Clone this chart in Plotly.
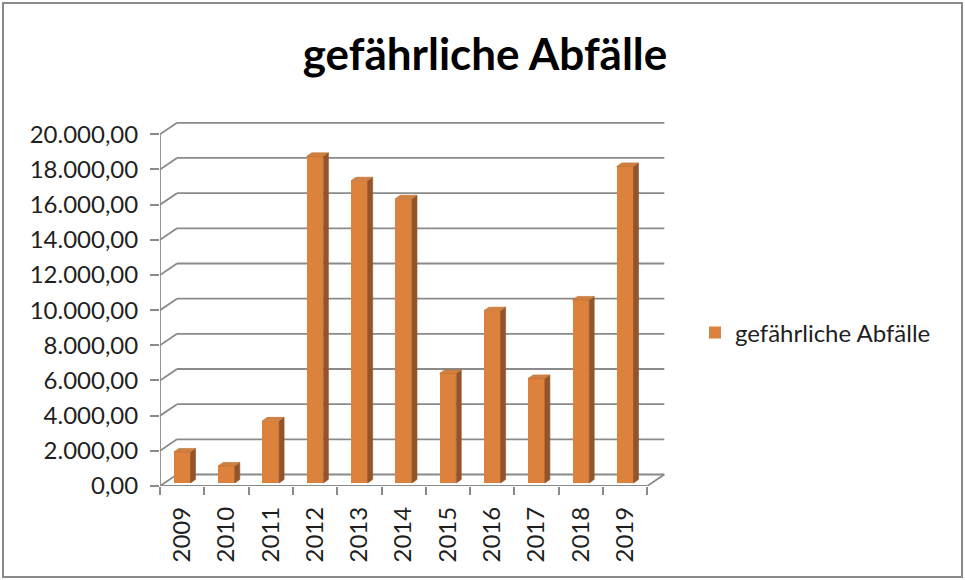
import plotly.graph_objects as go

# ---------------- data ----------------
years = ["2009", "2010", "2011", "2012", "2013", "2014", "2015", "2016", "2017", "2018", "2019"]
values = [1766, 969, 3533, 18575, 17190, 16165, 6233, 9800, 5948, 10410, 18005]
y_ticks = [0, 2000, 4000, 6000, 8000, 10000, 12000, 14000, 16000, 18000, 20000]
series_name = "gefährliche Abfälle"
title_text = "gefährliche Abfälle"

# ---------------- geometry (pixels) ----------------
W, H = 965, 580
L, R, T, B = 160, 300, 120, 94
plot_w = W - L - R
plot_h = H - T - B
cat_px = 44.3                      # width of one category in px
px_per_unit = (486 - 134.3) / 20000  # vertical px per value unit
n = len(years)

x0 = -0.5
x_range = [x0, x0 + plot_w / cat_px]
y_range = [0, plot_h / px_per_unit]

wall_dx = 17 / cat_px
wall_dy = 11.5 / px_per_unit
bar_w = 16.7 / cat_px
bar_dx = 5 / cat_px
bar_dy = 3.5 / px_per_unit
bar_base = 3 / px_per_unit

GRID = "#8a8a8a"
FRONT = "#DC823C"
SIDE = "#93542A"
TOP = "#D2803F"
FONT = "Lato"
TXT = "#1f1f1f"
FS = 24

fig = go.Figure()

# front faces of the columns
fig.add_trace(go.Bar(
    x=list(range(n)), y=values, base=bar_base, width=bar_w,
    marker=dict(color=FRONT, line=dict(width=0)),
    name=series_name, showlegend=True, hoverinfo="skip"))

# side and top faces (computed from the data)
sx, sy, tx, ty = [], [], [], []
for i, v in enumerate(values):
    xr = i + bar_w / 2
    xl = i - bar_w / 2
    top = bar_base + v
    sx += [xr, xr + bar_dx, xr + bar_dx, xr, xr, None]
    sy += [bar_base, bar_base + bar_dy, top + bar_dy, top, bar_base, None]
    tx += [xl, xr, xr + bar_dx, xl + bar_dx, xl, None]
    ty += [top, top, top + bar_dy, top + bar_dy, top, None]

fig.add_trace(go.Scatter(x=sx, y=sy, mode="lines", fill="toself", fillcolor=SIDE,
                         line=dict(width=0.6, color=SIDE), showlegend=False, hoverinfo="skip"))
fig.add_trace(go.Scatter(x=tx, y=ty, mode="lines", fill="toself", fillcolor=TOP,
                         line=dict(width=0.6, color="#B96E33"), showlegend=False, hoverinfo="skip"))

# back wall gridlines, diagonals, axes lines
shapes = []
x_end = x0 + n
for v in y_ticks:
    shapes.append(dict(type="line", xref="x", yref="y", layer="below",
                       x0=x0 + wall_dx, y0=v + wall_dy, x1=x_end + wall_dx, y1=v + wall_dy,
                       line=dict(color=GRID, width=1.8)))
    shapes.append(dict(type="line", xref="x", yref="y", layer="below",
                       x0=x0, y0=v, x1=x0 + wall_dx, y1=v + wall_dy,
                       line=dict(color=GRID, width=1.8)))
# front vertical axis
shapes.append(dict(type="line", xref="x", yref="y", layer="below",
                   x0=x0, y0=0, x1=x0, y1=y_ticks[-1], line=dict(color=GRID, width=1.8)))
# front floor edge
shapes.append(dict(type="line", xref="x", yref="y", layer="below",
                   x0=x0, y0=0, x1=x_end, y1=0, line=dict(color=GRID, width=1.8)))
# right floor edge
shapes.append(dict(type="line", xref="x", yref="y", layer="below",
                   x0=x_end, y0=0, x1=x_end + wall_dx, y1=wall_dy, line=dict(color=GRID, width=1.8)))
# outer chart border
shapes.append(dict(type="rect", xref="paper", yref="paper",
                   x0=(3 - L) / plot_w, x1=(962 - L) / plot_w,
                   y0=(H - B - 577) / plot_h, y1=(H - B - 3) / plot_h,
                   line=dict(color="#898989", width=2), fillcolor="rgba(0,0,0,0)"))

fig.update_layout(
    width=W, height=H,
    margin=dict(l=L, r=R, t=T, b=B, autoexpand=False),
    paper_bgcolor="white", plot_bgcolor="white",
    separators=",.",
    font=dict(family=FONT, size=FS, color=TXT),
    title=dict(text="<b>" + title_text + "</b>", x=485 / W, xref="container",
               y=1 - 55 / H, yref="container", xanchor="center", yanchor="middle",
               font=dict(family=FONT, size=44, color="#000000")),
    showlegend=True,
    legend=dict(x=(695 - L) / plot_w, y=(H - B - 333) / plot_h, xanchor="left", yanchor="middle",
                font=dict(family=FONT, size=FS, color=TXT), bgcolor="rgba(0,0,0,0)"),
    shapes=shapes,
    bargap=0,
)

fig.update_xaxes(range=x_range, tickmode="array", tickvals=list(range(n)), ticktext=years,
                 tickangle=-90, ticks="", showgrid=False, zeroline=False, showline=False,
                 ticklabelstandoff=15,
                 minor=dict(tickmode="array", tickvals=[x0 + k for k in range(n + 1)],
                            ticks="outside", ticklen=8, tickcolor=GRID, tickwidth=1.8, showgrid=False),
                 tickfont=dict(family=FONT, size=FS, color=TXT), fixedrange=True)
fig.update_yaxes(range=y_range, tickmode="array", tickvals=y_ticks, tickformat=",.2f",
                 ticks="outside", ticklen=9, tickcolor=GRID, tickwidth=1.8,
                 showgrid=False, zeroline=False, showline=False, ticklabelstandoff=7,
                 tickfont=dict(family=FONT, size=FS, color=TXT), fixedrange=True)

fig.write_html("out.html", post_script="document.body.style.margin='0';",
               config={"displayModeBar": False})
